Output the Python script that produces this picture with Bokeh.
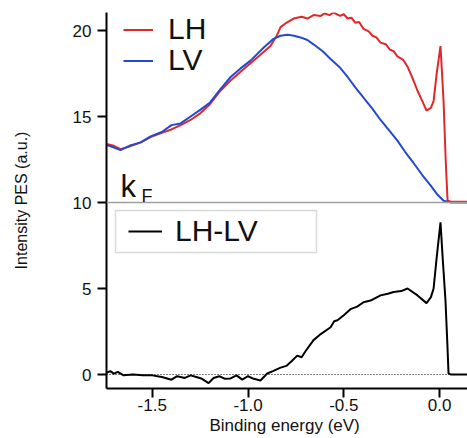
from bokeh.plotting import figure
from bokeh.models import (Span, Legend, LegendItem, Label, BoxAnnotation,
                          FixedTicker, NumeralTickFormatter)
from bokeh.embed import file_html
from bokeh.resources import INLINE

# ---------------- data ----------------
lh_energy = [-1.739, -1.70, -1.666, -1.62, -1.56, -1.509, -1.45, -1.40, -1.352, -1.30,
             -1.248, -1.20, -1.144, -1.091, -1.039, -0.987, -0.935, -0.883, -0.85, -0.83,
             -0.80, -0.762, -0.72, -0.69, -0.658, -0.62, -0.60, -0.575, -0.553, -0.52,
             -0.50, -0.48, -0.46, -0.44, -0.42, -0.397, -0.37, -0.35, -0.33, -0.308,
             -0.28, -0.26, -0.24, -0.22, -0.19, -0.167, -0.14, -0.115, -0.09, -0.068,
             -0.045, -0.031, -0.015, 0.005, 0.021, 0.032, 0.042, 0.06, 0.146]
lh_intensity = [13.4, 13.3, 13.1, 13.25, 13.5, 13.8, 14.05, 14.25, 14.5, 14.8,
                15.2, 15.7, 16.5, 17.1, 17.6, 18.1, 18.6, 19.1, 19.7, 20.2,
                20.45, 20.7, 20.8, 20.7, 20.9, 20.85, 21.0, 20.9, 21.05, 20.85,
                20.95, 20.7, 20.75, 20.45, 20.5, 20.1, 19.95, 19.7, 19.6, 19.3,
                19.2, 18.9, 18.8, 18.5, 18.3, 17.9, 17.2, 16.5, 15.9, 15.35,
                15.5, 15.9, 17.5, 19.1, 15.9, 12.5, 10.1, 10.05, 10.05]

lv_energy = [-1.739, -1.70, -1.666, -1.62, -1.56, -1.509, -1.45, -1.40, -1.352, -1.30,
             -1.248, -1.20, -1.144, -1.091, -1.039, -0.987, -0.919, -0.87, -0.83, -0.794,
             -0.76, -0.726, -0.69, -0.658, -0.61, -0.569, -0.52, -0.48, -0.44, -0.397,
             -0.35, -0.308, -0.26, -0.22, -0.18, -0.136, -0.09, -0.047, -0.01, 0.021,
             0.06, 0.146]
lv_intensity = [13.35, 13.2, 13.05, 13.3, 13.5, 13.85, 14.1, 14.5, 14.6, 15.0,
                15.4, 15.8, 16.6, 17.3, 17.8, 18.25, 19.0, 19.5, 19.7, 19.75,
                19.7, 19.6, 19.45, 19.2, 18.8, 18.35, 17.85, 17.3, 16.7, 16.1,
                15.45, 14.8, 14.15, 13.6, 12.95, 12.3, 11.6, 11.0, 10.45, 10.1,
                10.0, 10.0]

diff_energy = [-1.739, -1.72, -1.70, -1.68, -1.65, -1.60, -1.55, -1.50, -1.45, -1.40,
               -1.37, -1.33, -1.30, -1.27, -1.24, -1.206, -1.18, -1.15, -1.12, -1.091,
               -1.06, -1.03, -1.0, -0.97, -0.935, -0.90, -0.87, -0.83, -0.80, -0.77,
               -0.743, -0.72, -0.70, -0.658, -0.62, -0.569, -0.55, -0.533, -0.50, -0.465,
               -0.43, -0.397, -0.36, -0.308, -0.27, -0.24, -0.20, -0.167, -0.115, -0.068,
               -0.045, -0.031, -0.015, 0.005, 0.018, 0.031, 0.040, 0.047, 0.06, 0.146]
diff_intensity = [0.1, 0.2, 0.05, 0.15, -0.05, 0.0, -0.05, -0.05, -0.15, -0.3,
                  -0.1, -0.2, -0.05, -0.15, -0.25, -0.5, -0.2, -0.1, -0.25, -0.23,
                  -0.05, -0.3, -0.1, -0.25, -0.35, 0.06, 0.2, 0.4, 0.5, 0.8,
                  1.1, 1.0, 1.35, 2.0, 2.35, 2.75, 3.1, 3.15, 3.45, 3.8,
                  3.95, 4.2, 4.3, 4.6, 4.7, 4.8, 4.85, 5.0, 4.6, 4.15,
                  4.5, 5.0, 6.8, 8.85, 6.5, 4.3, 2.0, 0.05, 0.0, 0.0]

x_ticks = [-1.5, -1.0, -0.5, 0.0]
y_ticks = [0, 5, 10, 15, 20]
panel_divider = 10
zero_level = 0

FONT = "Liberation Sans"

p = figure(width=467, height=438, x_range=(-1.739, 0.146), y_range=(-0.814, 21.05),
           output_backend="svg", toolbar_location=None,
           min_border_left=106, min_border_right=0, min_border_top=12, min_border_bottom=50)
p.outline_line_color = None
p.xgrid.visible = False
p.ygrid.visible = False
p.background_fill_color = "white"

for ax in (p.xaxis[0], p.yaxis[0]):
    ax.axis_line_width = 2
    ax.axis_line_color = "black"
    ax.major_tick_line_width = 2
    ax.major_tick_line_color = "black"
    ax.major_tick_out = 9
    ax.major_tick_in = 0
    ax.minor_tick_line_color = None
    ax.major_label_text_font = FONT
    ax.major_label_text_font_size = "17px"
    ax.major_label_text_color = "#111111"
    ax.axis_label_text_font = FONT
    ax.axis_label_text_font_style = "normal"
    ax.axis_label_text_color = "#111111"

p.xaxis.ticker = FixedTicker(ticks=x_ticks)
p.xaxis.formatter = NumeralTickFormatter(format="0.0")
p.xaxis.major_label_standoff = 1
p.xaxis.axis_label = "Binding energy  (eV)"
p.xaxis.axis_label_text_font_size = "17px"
p.xaxis.axis_label_standoff = 2

p.yaxis.ticker = FixedTicker(ticks=y_ticks)
p.yaxis.major_label_standoff = 6
p.yaxis.axis_label = "Intensity PES (a.u.)"
p.yaxis.axis_label_text_font_size = "16px"
p.yaxis.axis_label_standoff = 40

p.add_layout(Span(location=panel_divider, dimension="width", line_color="#a0a0a0", line_width=1.5))
p.add_layout(Span(location=zero_level, dimension="width", line_color="black", line_width=1,
                  line_dash="1 2"))

r_lh = p.line(lh_energy, lh_intensity, line_color="#e02828", line_width=2)
r_lv = p.line(lv_energy, lv_intensity, line_color="#2448d0", line_width=2)
r_diff = p.line(diff_energy, diff_intensity, line_color="black", line_width=2)

# legend frame for LH-LV
p.add_layout(BoxAnnotation(left=9, right=210, bottom=136, top=178,
                           left_units="screen", right_units="screen",
                           bottom_units="screen", top_units="screen",
                           fill_color=None, line_color="#808080", line_width=1.5))

def make_legend(label, renderer, loc, gw, gh, standoff):
    lg = Legend(items=[LegendItem(label=label, renderers=[renderer])], location=loc,
                padding=0, margin=0, spacing=0, border_line_color=None,
                background_fill_alpha=0, glyph_width=gw, glyph_height=gh, label_height=gh,
                label_standoff=standoff, label_text_font=FONT, label_text_font_size="30px",
                label_text_color="#111111")
    p.add_layout(lg, "center")

make_legend("LH", r_lh, (17, 342), 30, 31, 15)
make_legend("LV", r_lv, (17, 311), 30, 31, 15)
make_legend("LH-LV", r_diff, (22, 137), 34, 40, 13)

p.add_layout(Label(x=14, y=202, x_units="screen", y_units="screen", text="k",
                   text_font=FONT, text_font_size="31px", text_color="#111111",
                   text_baseline="alphabetic"))
p.add_layout(Label(x=35, y=193, x_units="screen", y_units="screen", text="F",
                   text_font=FONT, text_font_size="18px", text_color="#111111",
                   text_baseline="alphabetic"))

open("out.html", "w").write(file_html(p, INLINE))
